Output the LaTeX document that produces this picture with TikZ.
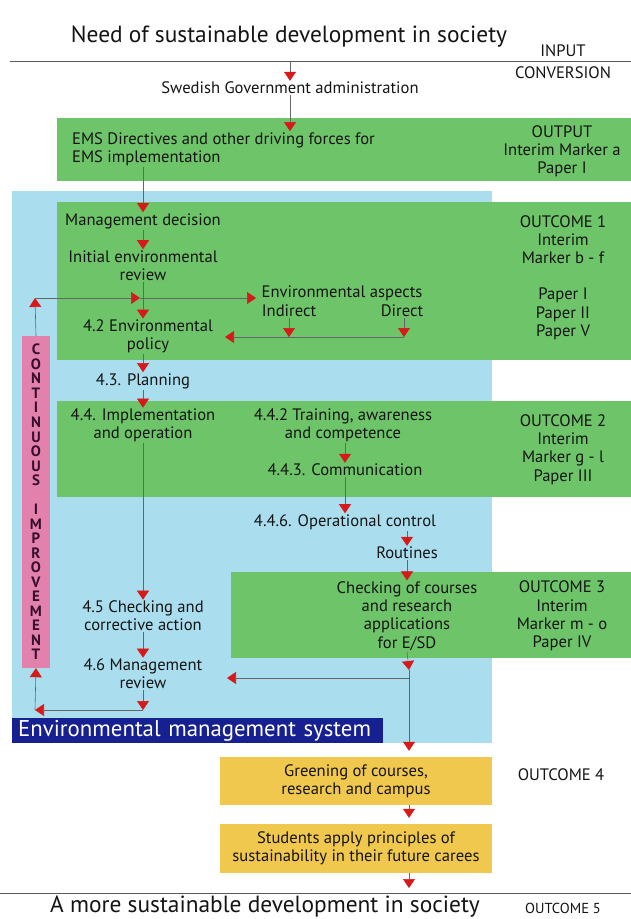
\documentclass[tikz,border=0pt]{standalone}
\usepackage{fontspec}
\setmainfont{PT Sans}
\usepackage{tikz}
\usetikzlibrary{arrows.meta, positioning}

\definecolor{bandgreen}{RGB}{110,196,104}
\definecolor{emsblue}{RGB}{170,222,238}
\definecolor{navy}{RGB}{22,32,145}
\definecolor{pinkbar}{RGB}{226,130,172}
\definecolor{letterpurple}{RGB}{55,12,45}
\definecolor{boxyellow}{RGB}{240,200,78}
\definecolor{arrowred}{RGB}{215,25,25}

\begin{document}
\begin{tikzpicture}[x=1pt, y=-1pt,
    txt/.style={align=center, inner sep=1pt, font=\fontsize{16.6}{18.2}\selectfont, text=black!92},
    side/.style={txt},
    big/.style={txt, font=\fontsize{23.4}{25}\selectfont},
    rule/.style={draw=black!65, line width=0.8pt},
    arr/.style={draw=black!60, line width=0.6pt, -{Triangle[color=arrowred, width=12pt, length=9pt]}},
    ybox/.style={txt, fill=boxyellow, minimum width=272pt}]
        \useasboundingbox (0,0) rectangle (631,919);

        % Backgrounds
        \fill[emsblue] (12,191) rectangle (492,743);
        \fill[bandgreen] (57,118) rectangle (631,181);
        \fill[bandgreen] (57,202) rectangle (631,360);
        \fill[bandgreen] (57,401) rectangle (631,497);
        \fill[bandgreen] (231,572) rectangle (631,658);

        % Society lines
        \coordinate (top_l) at (10,61);
        \coordinate (top_r) at (631,61);
        \coordinate (bot_l) at (0,893);
        \coordinate (bot_r) at (631,893);
        \draw[rule] (top_l) -- (top_r);
        \draw[rule] (bot_l) -- (bot_r);

        % Nodes
        \node (need) [big] at (289,37) {Need of sustainable development in society};
        \node (input) [side] at (563,51) {INPUT};
        \node (conv) [side] at (563,73) {CONVERSION};
        \node (sweden) [txt] at (290,88) {Swedish Government administration};
        \node (ems_dir) [txt, anchor=west, align=left] at (71,149) {EMS Directives and other driving forces for\\EMS implementation};
        \node (output) [side] at (562,151.5) {OUTPUT\\Interim Marker a\\Paper I};

        \node (mgmt_dec) [txt] at (143,221) {Management decision};
        \node (init_rev) [txt] at (143,265.5) {Initial environmental\\review};
        \node (aspects) [txt] at (342,293) {Environmental aspects};
        \node (indirect) [txt] at (289,311) {Indirect};
        \node (direct) [txt] at (402,311) {Direct};
        \node (policy) [txt] at (148,336.5) {4.2 Environmental\\policy};
        \node (out_1) [side] at (563,277.5) {OUTCOME 1\\Interim\\Marker b - f\\\mbox{}\\Paper I\\Paper II\\Paper V};

        \node (planning) [txt] at (143,381) {4.3. Planning};
        \node (impl) [txt] at (143,425.5) {4.4. Implementation\\and operation};
        \node (training) [txt] at (343,425.5) {4.4.2 Training, awareness\\and competence};
        \node (comm) [txt] at (345,470) {4.4.3. Communication};
        \node (out_2) [side] at (563,449.5) {OUTCOME 2\\Interim\\Marker g - l\\Paper III};

        \node (op_ctrl) [txt] at (345,522) {4.4.6. Operational control};
        \node (routines) [txt] at (407,553) {Routines};
        \node (checking) [txt] at (407,616) {Checking of courses\\and research\\applications\\for E/SD};
        \node (out_3) [side] at (562,616) {OUTCOME 3\\Interim\\Marker m - o\\Paper IV};

        \node (chk_act) [txt] at (143,616) {4.5 Checking and\\corrective action};
        \node (mgmt_rev) [txt] at (143,674) {4.6 Management\\review};

        \node (ci) [fill=pinkbar, text=letterpurple, inner sep=0, minimum width=28pt, minimum height=332pt, align=center,
            font=\fontsize{15}{14.52}\selectfont\bfseries] at (36,502)
            {C\\O\\N\\T\\I\\N\\U\\O\\U\\S\\\mbox{}\\I\\M\\P\\R\\O\\V\\E\\M\\E\\N\\T};

        \node (ems) [fill=navy, text=white, anchor=north west, inner xsep=6pt, inner ysep=0, minimum height=25pt,
            text width=359pt, align=left, font=\fontsize{22.8}{24}\selectfont] at (12,718) {Environmental management system};

        \node (greening) [ybox, minimum height=48pt] at (356,781) {Greening of courses,\\research and campus};
        \node (out_4) [side] at (561,775) {OUTCOME 4};
        \node (students) [ybox, minimum height=49pt] at (356,848.5) {Students apply principles of\\sustainability in their future carees};

        \node (more) [big, inner sep=0] at (265,907) {A more sustainable development in society};
        \node (out_5) [side, font=\fontsize{14.5}{16}\selectfont] at (563,908) {OUTCOME 5};

        % Free ends
        \coordinate (loop_top) at (35,298);
        \coordinate (loop_mid) at (140,298);
        \coordinate (asp_in) at (256,298);
        \coordinate (asp_line) at (404,337);
        \coordinate (pol_in) at (225,337);
        \coordinate (rev_low) at (143,710);
        \coordinate (loop_low) at (35,710);
        \coordinate (chk_tip) at (409,670);
        \coordinate (chk_low) at (409,678);
        \coordinate (rev_in) at (227,678);

        % Arrows
        \draw[arr] (sweden.north |- top_l) -- (sweden.north);
        \draw[arr] (sweden.south) -- (sweden.south |- ems_dir.north);
        \draw[arr] (mgmt_dec.north |- ems_dir.south) -- (mgmt_dec.north);
        \draw[arr] (mgmt_dec.south) -- (init_rev.north);
        \draw[arr] (init_rev.south) -- (init_rev.south |- policy.north);

        \draw[arr] (ci.north) -- (loop_top);
        \draw[arr] (loop_top) -- (loop_mid);
        \draw[arr] (loop_mid) -- (asp_in);
        \draw[arr] (indirect.south) -- (indirect.south |- asp_line);
        \draw[arr] (direct.south -| asp_line) -- (asp_line);
        \draw[arr] (asp_line) -- (pol_in);

        \draw[arr] (init_rev.south |- policy.south) -- (planning.north);
        \draw[arr] (planning.south) -- (impl.north);
        \draw[arr] (impl.south) -- (chk_act.north);
        \draw[arr] (chk_act.south) -- (mgmt_rev.north);
        \draw[arr] (mgmt_rev.south) -- (rev_low);
        \draw[arr] (rev_low) -- (loop_low);
        \draw[arr] (loop_low) -- (ci.south);

        \draw[arr] (training.south -| comm.north) -- (comm.north);
        \draw[arr] (comm.south) -- (op_ctrl.north);
        \draw[arr] (routines.north |- op_ctrl.south) -- (routines.north);
        \draw[arr] (routines.south) -- (checking.north);
        \draw[arr] (checking.south) -- (chk_tip);
        \draw[arr] (chk_low) -- (rev_in);
        \draw[arr, shorten >=6pt] (chk_tip) -- (greening.north -| chk_tip);
        \draw[arr, shorten >=6pt] (greening.south -| chk_tip) -- (students.north -| chk_tip);
        \draw[arr, shorten >=5pt] (students.south -| chk_tip) -- (bot_l -| chk_tip);
\end{tikzpicture}
\end{document}
